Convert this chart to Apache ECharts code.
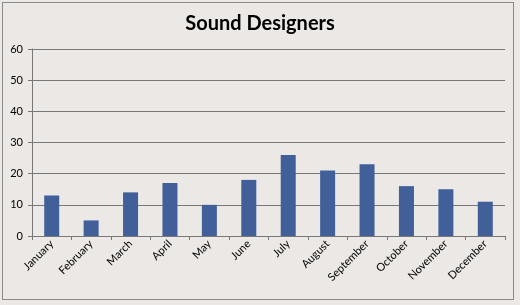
<!DOCTYPE html>
<html><head><meta charset="utf-8">
<script src="https://cdn.jsdelivr.net/npm/echarts@6/dist/echarts.min.js"></script>
<style>html,body{margin:0;padding:0;background:#ebe8e5;}#c{width:520px;height:305px;}
#frame{position:absolute;left:2px;top:2px;width:510px;height:296px;border:1px solid #8a8a8a;pointer-events:none;}</style>
</head><body><div id="c"></div><div id="frame"></div>
<script>
const categories = ["January","February","March","April","May","June","July","August","September","October","November","December"];
const values = [13,5,14,17,10,18,26,21,23,16,15,11];
const yTicks = [0,10,20,30,40,50,60];
const chart = echarts.init(document.getElementById('c'), null, {renderer:'canvas'});
chart.setOption({
  backgroundColor:'#ebe8e5',
  animation:false,
  title:{text:'Sound Designers',left:'center',top:9,textStyle:{fontFamily:'Lato',fontWeight:'bold',fontSize:20,color:'#000'}},
  grid:{left:32,right:15,top:49,bottom:69},
  xAxis:{type:'category',data:categories,
    axisLine:{lineStyle:{color:'#787878'}},
    axisTick:{show:true,alignWithLabel:false,length:4,lineStyle:{color:'#787878'}},
    axisLabel:{rotate:45,fontFamily:'Lato',fontSize:11,color:'#000',margin:6}},
  yAxis:{type:'value',min:yTicks[0],max:yTicks[yTicks.length-1],interval:10,
    axisLine:{show:true,lineStyle:{color:'#787878'}},
    axisTick:{show:true,length:4,lineStyle:{color:'#787878'}},
    splitLine:{lineStyle:{color:'#787878',width:1}},
    axisLabel:{fontFamily:'Lato',fontSize:11,color:'#000',margin:9}},
  series:[{type:'bar',data:values,barWidth:15,itemStyle:{color:'#41609a'}}]
});
</script></body></html>
